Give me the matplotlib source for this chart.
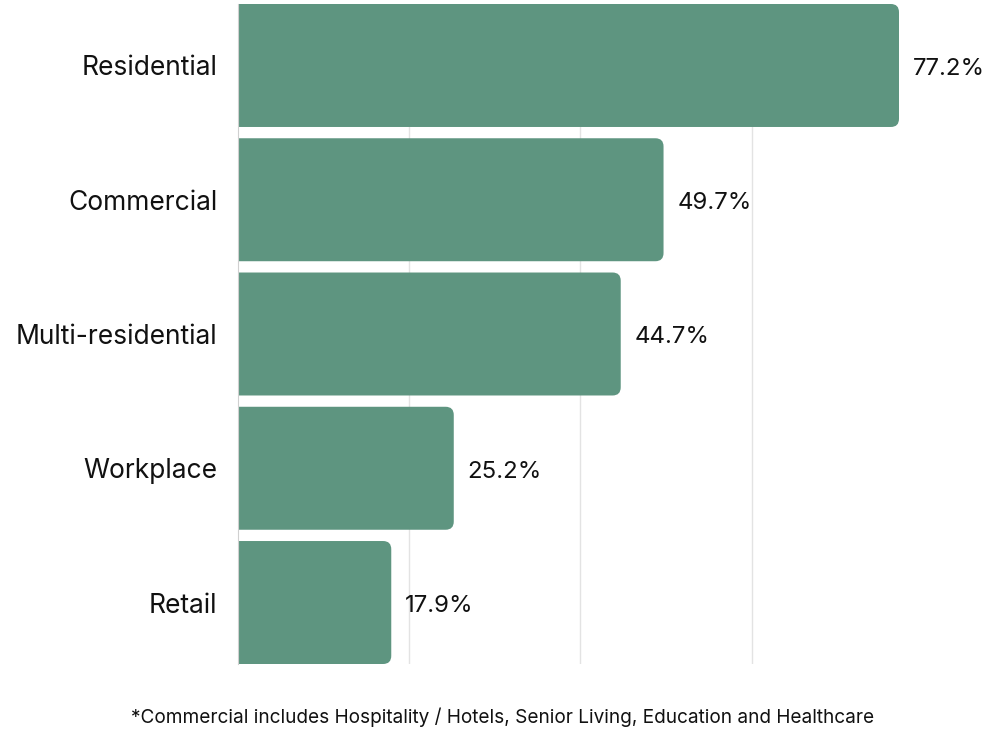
import numpy as np
import matplotlib.pyplot as plt
from matplotlib.patches import FancyBboxPatch

# data
categories = ['Residential', 'Commercial', 'Multi-residential', 'Workplace', 'Retail']
values = [77.2, 49.7, 44.7, 25.2, 17.9]
labels = ['77.2%', '49.7%', '44.7%', '25.2%', '17.9%']
footnote = '*Commercial includes Hospitality / Hotels, Senior Living, Education and Healthcare'

plt.rcParams['font.family'] = ['Inter', 'DejaVu Sans']

fig = plt.figure(figsize=(10.01, 7.48), dpi=100)
ax = fig.add_axes([238 / 1001, 84 / 748, (899 - 238) / 1001, 660 / 748])

h = 0.916
color = '#5e9580'
y = np.arange(len(categories))[::-1]

# rounded bars - start left of zero so that only the right corners show
rx = 0.95
ry = rx * 0.064
for yi, v, lab in zip(y, values, labels):
    p = FancyBboxPatch((-2, yi - h / 2), v + 2, h,
                       boxstyle='round,pad=0,rounding_size=%f' % rx,
                       mutation_aspect=ry / rx,
                       facecolor=color, edgecolor='none', zorder=2)
    ax.add_patch(p)
    ax.annotate(lab, (v, yi), xytext=(10, -2.5), textcoords='offset points',
                va='center', ha='left', fontsize=17.3, color='#111111',
                annotation_clip=False)

ax.set_xlim(0, 77.2)
ax.set_ylim(-h / 2, len(categories) - 1 + h / 2)
ax.set_yticks(y)
ax.set_yticklabels(categories, fontsize=19, color='#111111')
ax.set_xticks([20, 40, 60])
ax.tick_params(axis='x', length=0, labelbottom=False)
ax.tick_params(axis='y', length=0, pad=15)
ax.grid(axis='x', color='#e3e3e3', linewidth=1, zorder=0)
ax.set_axisbelow(True)
for s in ['top', 'right', 'bottom']:
    ax.spines[s].set_visible(False)
ax.spines['left'].set_color('#d0d0d0')
ax.spines['left'].set_zorder(3)

fig.text(503 / 1001, 1 - 717 / 748, footnote, ha='center', va='center',
         fontsize=13.7, color='#111111')

fig.savefig('out.png', dpi=100)
